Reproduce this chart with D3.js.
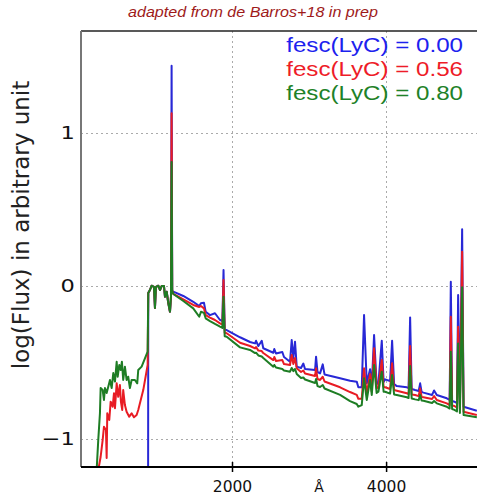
<!DOCTYPE html>
<html>
<head>
<meta charset="utf-8">
<script src="https://cdn.jsdelivr.net/npm/d3@7"></script>
<style>
body { margin: 0; background: #fff; }
svg { display: block; }
</style>
</head>
<body>
<svg width="477" height="498"></svg>
<script>
// ionizing part (below 912 A), only the leaking models have flux
const lycWave = [243, 264, 286, 295, 321, 338, 351, 364, 373, 381, 394, 407, 416, 425, 438, 451, 459, 468, 481,
    503, 516, 523, 537, 545, 555, 558, 571, 575, 588, 610, 632, 653, 666, 675, 697, 727, 740, 762, 770, 783,
    827, 848, 870, 905];
const lycRed = [null, -1.203, null, -1.116, -1.007, -0.920, null, -0.941, -1.124, -0.832, null, -0.876, null, -0.756, null, -0.789, null, -0.701, -0.799,
    -0.636, null, -0.724, null, -0.647, null, -0.756, null, -0.810, -0.680, -0.778, -0.822, null, -0.854, null, -0.832, -0.858, null, -0.843, null, -0.810,
    null, -0.680, null, -0.516];
const lycGreen = [-1.203, -1.007, -0.830, -0.667, -0.680, -0.745, -0.667, null, -0.699, null, -0.658, null, -0.614, null, -0.667, null, -0.569, null, -0.625,
    -0.495, -0.593, null, -0.516, null, -0.549, null, -0.495, null, -0.614, -0.527, -0.614, -0.593, null, -0.667, -0.614, null, -0.614, null, -0.636, -0.549,
    -0.527, null, -0.473, -0.429];
const lycBlueWave = [911];
const lycBlue = [-1.4];

// non-ionizing part, shared wavelength grid
const wave = [913, 935, 957, 987, 1000, 1013, 1043, 1065, 1087, 1117, 1130, 1152, 1173, 1195, 1208, 1216, 1224,
    1238, 1368, 1497, 1575, 1597, 1636, 1658, 1714, 1779, 1844, 1875, 1890, 1905, 1931, 2104, 2234, 2299, 2312,
    2342, 2386, 2406, 2536, 2549, 2571, 2653, 2675, 2753, 2775, 2796, 2818, 2840, 2896, 2926, 2948, 3078, 3091,
    3110, 3143, 3178, 3201, 3403, 3532, 3619, 3640, 3684, 3714, 3749, 3792, 3814, 3844, 3877, 3900, 3944, 3968,
    3987, 4052, 4078, 4104, 4139, 4269, 4292, 4312, 4332, 4377, 4423, 4442, 4461, 4485, 4597, 4623, 4658, 4788,
    4825, 4840, 4857, 4887, 4920, 4935, 4958, 4987, 5006, 5178];
const plateau = [-0.046, -0.026, 0.002, -0.005, -0.144, -0.005, 0.002, -0.026, 0.000, 0.000, -0.070, -0.037, -0.111, -0.168, -0.070];
const fluxBlue = [...plateau, 1.44, -0.03,
    -0.037, -0.065, -0.103, -0.131, -0.113, -0.109, -0.168, -0.190, -0.178, -0.222, -0.230, 0.105, -0.285, -0.288, -0.335, -0.366, -0.375, -0.358,
    -0.392, -0.358, -0.407, -0.436, -0.412, -0.441, -0.431, -0.464, -0.495, -0.353, -0.471, -0.364, -0.527, -0.536, -0.507, -0.542, -0.549, -0.462,
    -0.562, -0.571, -0.512, -0.578, -0.603, -0.619, -0.625, -0.662, -0.662, -0.190, -0.636, -0.544, -0.654, -0.320, -0.641, -0.636, -0.358, -0.627,
    -0.610, -0.621, -0.358, -0.641, -0.654, -0.662, -0.667, -0.205, -0.673, -0.680, -0.686, -0.636, -0.693, -0.697, -0.712, -0.683, -0.712, -0.734,
    -0.745, 0.028, -0.752, -0.756, -0.765, -0.059, -0.771, 0.371, -0.789, -0.815];
const fluxRed = [...plateau, 1.13, -0.03,
    -0.052, -0.088, -0.124, -0.137, -0.131, -0.146, -0.190, -0.206, -0.222, -0.244, -0.252, 0.039, -0.305, -0.309, -0.371, -0.392, -0.408, -0.399,
    -0.422, -0.425, -0.438, -0.484, -0.464, -0.490, -0.484, -0.510, -0.516, -0.451, -0.510, -0.471, -0.538, -0.562, -0.552, -0.572, -0.588, -0.538,
    -0.608, -0.614, -0.593, -0.624, -0.662, -0.693, -0.712, -0.737, -0.737, -0.538, -0.706, -0.575, -0.691, -0.407, -0.670, -0.662, -0.484, -0.660,
    -0.662, -0.673, -0.505, -0.680, -0.684, -0.701, -0.706, -0.392, -0.709, -0.712, -0.720, -0.669, -0.725, -0.727, -0.739, -0.719, -0.745, -0.767,
    -0.778, -0.201, -0.781, -0.784, -0.795, -0.266, -0.804, 0.224, -0.822, -0.843];
const fluxGreen = [...plateau, 0.81, -0.03,
    -0.052, -0.098, -0.146, -0.201, -0.168, -0.176, -0.211, -0.229, -0.248, -0.266, -0.274, -0.070, -0.328, -0.331, -0.401, -0.418, -0.438, -0.436,
    -0.454, -0.461, -0.471, -0.527, -0.516, -0.533, -0.542, -0.552, -0.560, -0.536, -0.556, -0.542, -0.575, -0.601, -0.598, -0.611, -0.634, -0.608,
    -0.654, -0.660, -0.647, -0.670, -0.712, -0.752, -0.771, -0.789, -0.778, -0.603, -0.745, -0.614, -0.712, -0.516, -0.699, -0.691, -0.560, -0.691,
    -0.691, -0.703, -0.582, -0.709, -0.712, -0.727, -0.732, -0.523, -0.735, -0.741, -0.746, -0.712, -0.748, -0.750, -0.765, -0.752, -0.767, -0.789,
    -0.801, -0.429, -0.804, -0.810, -0.820, -0.375, -0.830, -0.008, -0.843, -0.858];

const legendLabels = ["fesc(LyC) = 0.00", "fesc(LyC) = 0.56", "fesc(LyC) = 0.80"];
const colors = ["#2828d6", "#e81c24", "#1e7d24"];
const textColors = ["#1c22ee", "#ee1c28", "#1e8228"];
const xTicks = [2000, 4000];
const yTicks = [-1, 0, 1];

const svg = d3.select("svg");
const plotL = 81, plotR = 477, plotT = 31, plotB = 467;
const stretch = 1.15; // the original figure was widened a bit

const x = d3.scaleLinear().domain([40, 5180]).range([plotL, plotR]);
const y = d3.scaleLinear().domain([-1.183, 1.667]).range([plotB, plotT]);

// build the three series
const pairs = (ws, fs) => ws.map((w, i) => ({w, f: fs[i]})).filter(d => d.f !== null);
const series = [
    pairs(lycBlueWave, lycBlue).concat(pairs(wave, fluxBlue)),
    pairs(lycWave, lycRed).concat(pairs(wave, fluxRed)),
    pairs(lycWave, lycGreen).concat(pairs(wave, fluxGreen))
];

svg.append("defs").append("clipPath").attr("id", "plot")
    .append("rect").attr("x", plotL).attr("y", plotT).attr("width", plotR - plotL).attr("height", plotB - plotT);

// grid
const grid = svg.append("g").attr("stroke", "#aaa").attr("stroke-width", 1).attr("stroke-dasharray", "2,3");
grid.selectAll(".gy").data(yTicks).join("line")
    .attr("x1", plotL).attr("x2", plotR)
    .attr("y1", d => Math.round(y(d)) + 0.5).attr("y2", d => Math.round(y(d)) + 0.5);
grid.selectAll(".gx").data(xTicks).join("line")
    .attr("y1", plotT).attr("y2", plotB)
    .attr("x1", d => Math.round(x(d)) + 0.5).attr("x2", d => Math.round(x(d)) + 0.5);

// spectra
const line = d3.line()
    .x(d => x(d.w))
    .y(d => y(d.f));
svg.append("g").attr("clip-path", "url(#plot)")
    .selectAll("path").data(series).join("path")
    .attr("d", line)
    .attr("fill", "none")
    .attr("stroke", (d, i) => colors[i])
    .attr("stroke-width", 2)
    .attr("stroke-linejoin", "round");

// frame
svg.append("line").attr("x1", plotL).attr("x2", plotR).attr("y1", plotT).attr("y2", plotT)
    .attr("stroke", "#222").attr("stroke-width", 1.5);
svg.append("line").attr("x1", plotL).attr("x2", plotL).attr("y1", plotT).attr("y2", plotB)
    .attr("stroke", "#777").attr("stroke-width", 2);

// x axis
const xAxis = svg.append("g").attr("transform", `translate(0,${plotB})`)
    .call(d3.axisBottom(x).tickValues(xTicks).tickSize(5).tickPadding(9).tickFormat(d3.format("d")));
xAxis.select(".domain").remove();
xAxis.selectAll(".tick line").attr("y1", -5).attr("stroke-width", 1.5);
xAxis.selectAll("text").attr("font-family", "DejaVu Sans").attr("font-size", 15.5).attr("fill", "#111");
svg.append("line").attr("x1", plotL).attr("x2", plotR).attr("y1", plotB).attr("y2", plotB)
    .attr("stroke", "#000").attr("stroke-width", 2);

// y axis labels
const yAxis = svg.append("g").attr("transform", `translate(${plotL},0)`)
    .call(d3.axisLeft(y).tickValues(yTicks).tickSize(0).tickPadding(5).tickFormat(d3.format("d")));
yAxis.select(".domain").remove();
yAxis.selectAll("text").attr("font-family", "DejaVu Sans").attr("font-size", 18).attr("fill", "#111")
    .attr("transform", "scale(1.25,1)");

// titles
svg.append("text").attr("transform", `translate(253,17) scale(${stretch},1)`).attr("text-anchor", "middle")
    .attr("font-family", "Liberation Sans, Arial, sans-serif").attr("font-style", "italic")
    .attr("font-size", 14).attr("fill", "#9e1a1a")
    .text("adapted from de Barros+18 in prep");
svg.append("text").attr("transform", "translate(29,225) rotate(-90)").attr("text-anchor", "middle")
    .attr("font-family", "DejaVu Sans").attr("font-size", 23).attr("fill", "#222")
    .text("log(Flux) in arbitrary unit");
svg.append("text").attr("x", 319).attr("y", 492).attr("text-anchor", "middle")
    .attr("font-family", "DejaVu Sans").attr("font-size", 14).attr("fill", "#111")
    .text("Å");

// legend
svg.append("g").selectAll("text").data(legendLabels).join("text")
    .attr("transform", (d, i) => `translate(463,${52 + i * 24}) scale(${stretch},1)`)
    .attr("text-anchor", "end")
    .attr("font-family", "Liberation Sans, Arial, sans-serif").attr("font-size", 21)
    .attr("fill", (d, i) => textColors[i])
    .text(d => d);
</script>
</body>
</html>
